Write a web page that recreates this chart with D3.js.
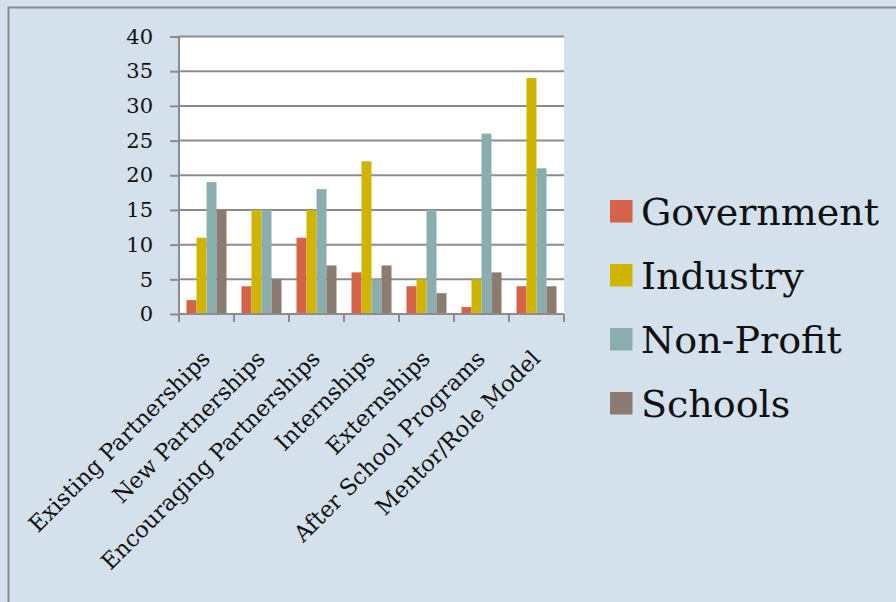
<!DOCTYPE html>
<html><head><meta charset="utf-8">
<script src="https://cdn.jsdelivr.net/npm/d3@7"></script>
<style>html,body{margin:0;padding:0;background:#d4e0ec;}svg{display:block;}</style>
</head><body>
<script>
const categories = ["Existing Partnerships","New Partnerships","Encouraging Partnerships","Internships","Externships","After School Programs","Mentor/Role Model"];
const seriesNames = ["Government","Industry","Non-Profit","Schools"];
const government = [2,4,11,6,4,1,4];
const industry = [11,15,15,22,5,5,34];
const nonProfit = [19,15,18,5,15,26,21];
const schools = [15,5,7,7,3,6,4];
const yTicks = [0,5,10,15,20,25,30,35,40];
const colors = ["#d4634a","#cfb400","#8aadad","#8c7b70"];

const values = [government, industry, nonProfit, schools];
const W = 896, H = 602;
const FONT = "'DejaVu Serif', serif";
const svg = d3.select("body").append("svg").attr("width", W).attr("height", H);
svg.append("rect").attr("width", W).attr("height", H).attr("fill", "#d4e0ec");
// outer border (top & left)
svg.append("path").attr("d", `M8.5,${H} L8.5,7.5 L${W},7.5`).attr("fill","none").attr("stroke","#8a8a8a").attr("stroke-width",2);

const pLeft = 179, pRight = 564, pTop = 36.5, pBottom = 314;
const x = d3.scaleBand().domain(categories).range([pLeft, pRight]).paddingInner(0).paddingOuter(0);
const x1 = d3.scaleBand().domain(seriesNames).range([0, x.bandwidth()]).paddingInner(0).paddingOuter(0.75);
const y = d3.scaleLinear().domain([0, 40]).range([pBottom, pTop]);

svg.append("rect").attr("x", pLeft).attr("y", pTop).attr("width", pRight-pLeft).attr("height", pBottom-pTop).attr("fill", "#fff");

// gridlines
svg.append("g").selectAll("line").data(yTicks.slice(1)).join("line")
  .attr("x1", pLeft).attr("x2", pRight).attr("y1", d=>y(d)).attr("y2", d=>y(d))
  .attr("stroke", "#8c8c8c").attr("stroke-width", 2);

// bars
const g = svg.append("g");
categories.forEach((c, ci) => {
  seriesNames.forEach((s, si) => {
    g.append("rect")
      .attr("x", x(c) + x1(s))
      .attr("y", y(values[si][ci]))
      .attr("width", x1.bandwidth())
      .attr("height", y(0) - y(values[si][ci]))
      .attr("fill", colors[si]);
  });
});

// y axis
const yAxis = d3.axisLeft(y).tickValues(yTicks).tickSize(9).tickPadding(17).tickFormat(d3.format("d"));
const ya = svg.append("g").attr("transform", `translate(${pLeft},0)`).call(yAxis);
ya.select(".domain").attr("stroke", "#8c8c8c").attr("stroke-width", 2).attr("d", `M0,${pTop} V${pBottom+8}`);
ya.selectAll(".tick line").attr("stroke", "#8c8c8c").attr("stroke-width", 2);
ya.selectAll(".tick text").attr("font-family", FONT).attr("font-size", 21).attr("fill", "#111");

// x axis
const xAxis = d3.axisBottom(x).tickSize(0).tickFormat("");
const xa = svg.append("g").attr("transform", `translate(0,${pBottom})`).call(xAxis);
xa.select(".domain").attr("stroke", "#8c8c8c").attr("stroke-width", 2).attr("d", `M${pLeft},0 H${pRight}`);
xa.selectAll(".tick").remove();
const bounds = categories.map(c => x(c)).concat([pRight]);
xa.selectAll("line.bt").data(bounds).join("line").attr("class","bt")
  .attr("x1", d=>d).attr("x2", d=>d).attr("y1", 0).attr("y2", 8)
  .attr("stroke", "#8c8c8c").attr("stroke-width", 2);

svg.append("g").selectAll("text").data(categories).join("text")
  .attr("transform", d => `translate(${x(d) + x.bandwidth()/2 + 5},${pBottom + 46}) rotate(-45)`)
  .attr("text-anchor", "end")
  .attr("font-family", FONT)
  .attr("font-size", 22.5)
  .attr("fill", "#111")
  .text(d => d);

// legend
const lg = svg.append("g");
seriesNames.forEach((s, i) => {
  const ty = 200 + i * 64;
  lg.append("rect").attr("x", 610).attr("y", ty).attr("width", 22.5).attr("height", 22.5).attr("fill", colors[i]);
  lg.append("text").attr("x", 641).attr("y", ty + 25)
    .attr("font-family", FONT).attr("font-size", 38).attr("fill", "#111").text(s);
});
</script>
</body></html>
